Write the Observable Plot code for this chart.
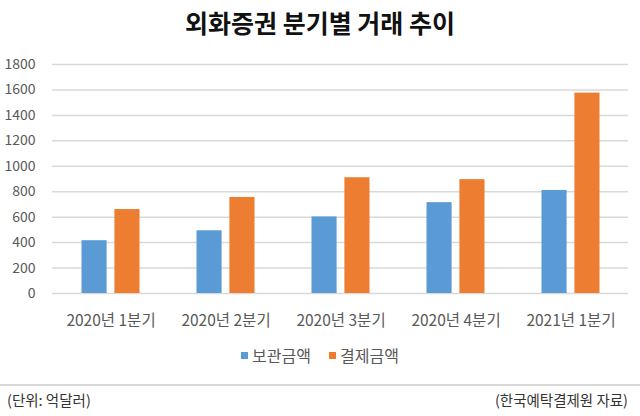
<!DOCTYPE html>
<html>
<head>
<meta charset="utf-8">
<script src="https://cdn.jsdelivr.net/npm/d3@7"></script>
<script src="https://cdn.jsdelivr.net/npm/@observablehq/plot@0.6"></script>
<style>
  html, body { margin: 0; padding: 0; background: #fff; }
  #wrap { width: 640px; height: 416px; overflow: hidden; font-family: "Noto Sans CJK KR", "Noto Sans", sans-serif; }
  #title { height: 44px; line-height: 44px; text-align: center; font-size: 25px; font-weight: 700; color: #111; }
  #chart svg { display: block; }
  #legend { margin-top: 7px; height: 20px; display: flex; justify-content: center; align-items: center; font-size: 16px; color: #595959; }
  #legend .item { display: flex; align-items: center; margin: 0 9px; }
  #legend .sw { width: 7px; height: 7px; margin-right: 4px; }
  #sep { margin-top: 19px; height: 2px; background: #d9d9d9; }
  #footer { box-sizing: border-box; width: 640px; margin-top: 4px; height: 20px; line-height: 20px; display: flex; justify-content: space-between; font-size: 14.5px; color: #333; padding: 0 12px 0 7px; }
</style>
</head>
<body>
<div id="wrap">
  <div id="title">외화증권 분기별 거래 추이</div>
  <div id="chart"></div>
  <div id="legend"></div>
  <div id="sep"></div>
  <div id="footer"><span>(단위: 억달러)</span><span>(한국예탁결제원 자료)</span></div>
</div>
<script>
const quarters = ["2020년 1분기", "2020년 2분기", "2020년 3분기", "2020년 4분기", "2021년 1분기"];
const custody = [415, 493, 602, 714, 810];      // 보관금액
const settlement = [660, 755, 910, 895, 1575];  // 결제금액
const seriesNames = ["보관금액", "결제금액"];
const seriesColors = ["#5B9BD5", "#ED7D31"];
const yTicks = [0, 200, 400, 600, 800, 1000, 1200, 1400, 1600, 1800];

const custodyData = quarters.map((q, i) => ({quarter: q, value: custody[i], series: seriesNames[0]}));
const settlementData = quarters.map((q, i) => ({quarter: q, value: settlement[i], series: seriesNames[1]}));

const chart = Plot.plot({
  width: 640,
  height: 294,
  marginTop: 20,
  marginBottom: 45,
  marginLeft: 52,
  marginRight: 12,
  style: {fontFamily: "'Noto Sans CJK KR', 'Noto Sans', sans-serif", fontSize: "14px", color: "#595959", background: "#fff"},
  x: {domain: quarters, padding: 0, label: null, tickSize: 0, tickPadding: 21},
  y: {domain: [0, 1800], ticks: yTicks, label: null, tickSize: 0, tickPadding: 17, tickFormat: d => String(d)},
  color: {domain: seriesNames, range: seriesColors},
  marks: [
    Plot.ruleY(yTicks, {stroke: "#d9d9d9", strokeWidth: 1.5}),
    Plot.barY(custodyData, {x: "quarter", y: "value", fill: "series", insetLeft: 28.5, insetRight: 61.4}),
    Plot.barY(settlementData, {x: "quarter", y: "value", fill: "series", insetLeft: 61.4, insetRight: 28.5})
  ]
});
chart.querySelectorAll("[aria-label='x-axis tick label'] text, g[aria-label='x-axis tick label'] text").forEach(t => t.style.fontSize = "15.5px");
document.getElementById("chart").appendChild(chart);

const legend = document.getElementById("legend");
seriesNames.forEach((name, i) => {
  const item = document.createElement("div");
  item.className = "item";
  const sw = document.createElement("span");
  sw.className = "sw";
  sw.style.background = seriesColors[i];
  const label = document.createElement("span");
  label.textContent = name;
  item.appendChild(sw);
  item.appendChild(label);
  legend.appendChild(item);
});
</script>
</body>
</html>
